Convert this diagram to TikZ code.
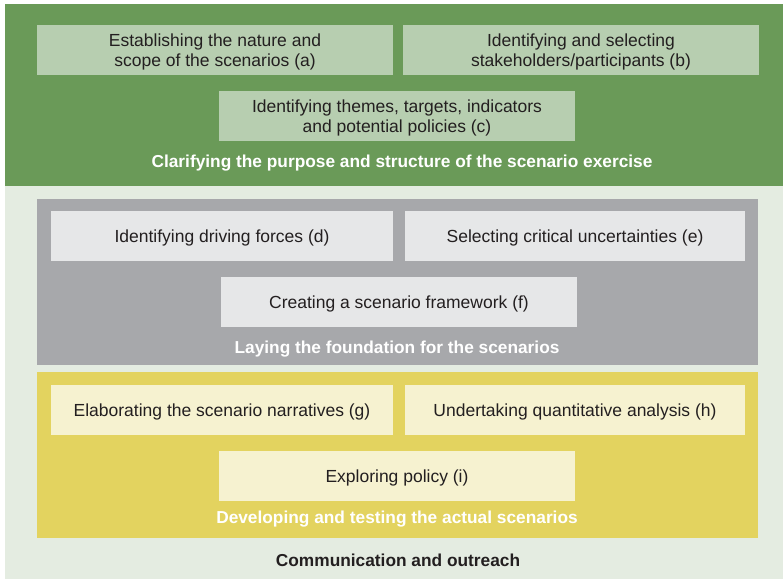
\documentclass[tikz,border=0pt]{standalone}
\usepackage{fontspec}
\setmainfont{Liberation Sans}
\definecolor{bgl}{HTML}{E4ECE1}
\definecolor{grn}{HTML}{6A9A58}
\definecolor{grnbox}{HTML}{B7CEB0}
\definecolor{gry}{HTML}{A7A8AB}
\definecolor{grybox}{HTML}{E6E7E8}
\definecolor{ylw}{HTML}{E3D35F}
\definecolor{ylwbox}{HTML}{F6F2D0}
\definecolor{txt}{HTML}{231F20}
\begin{document}
\begin{tikzpicture}[x=1pt,y=-1pt,
  stepbox/.style={anchor=north west,inner sep=0pt,outer sep=0pt,
    minimum height=50pt},
  lbl/.style={align=center,inner sep=0pt,text=txt,yshift=-2pt,
    font=\fontsize{17.5}{20}\selectfont},
  ttl/.style={text=white,font=\bfseries\fontsize{17.3}{20}\selectfont,inner sep=0pt},
]
\useasboundingbox (0,0) rectangle (783,579);
\fill[white] (0,0) rectangle (783,579);
\fill[bgl] (5,4) rectangle (783,579);
% green band
\fill[grn] (5,4) rectangle (783,186);
\node[stepbox,fill=grnbox,minimum width=356pt,
  label={[lbl]center:Establishing the nature and\\scope of the scenarios (a)}] (a) at (37,25) {};
\node[stepbox,fill=grnbox,minimum width=356pt,
  label={[lbl]center:Identifying and selecting\\stakeholders/participants (b)}] (b) at (403,25) {};
\node[stepbox,fill=grnbox,minimum width=356pt,
  label={[lbl]center:Identifying themes, targets, indicators\\and potential policies (c)}] (c) at (219,91) {};
\node[ttl] (t1) at (402,163) {Clarifying the purpose and structure of the scenario exercise};
% gray panel
\fill[gry] (37,199) rectangle (758,365);
\node[stepbox,fill=grybox,minimum width=342pt,
  label={[lbl]center:Identifying driving forces (d)}] (d) at (51,211) {};
\node[stepbox,fill=grybox,minimum width=340pt,
  label={[lbl]center:Selecting critical uncertainties (e)}] (e) at (405,211) {};
\node[stepbox,fill=grybox,minimum width=356pt,
  label={[lbl]center:Creating a scenario framework (f)}] (f) at (221,277) {};
\node[ttl] (t2) at (397,349) {Laying the foundation for the scenarios};
% yellow panel
\fill[ylw] (37,372) rectangle (758,538);
\node[stepbox,fill=ylwbox,minimum width=342pt,
  label={[lbl]center:Elaborating the scenario narratives (g)}] (g) at (51,385) {};
\node[stepbox,fill=ylwbox,minimum width=340pt,
  label={[lbl]center:Undertaking quantitative analysis (h)}] (h) at (405,385) {};
\node[stepbox,fill=ylwbox,minimum width=356pt,
  label={[lbl]center:Exploring policy (i)}] (i) at (219,451) {};
\node[ttl] (t3) at (397,519) {Developing and testing the actual scenarios};
\node[ttl,text=txt] (t4) at (398,560) {Communication and outreach};
\end{tikzpicture}
\end{document}
